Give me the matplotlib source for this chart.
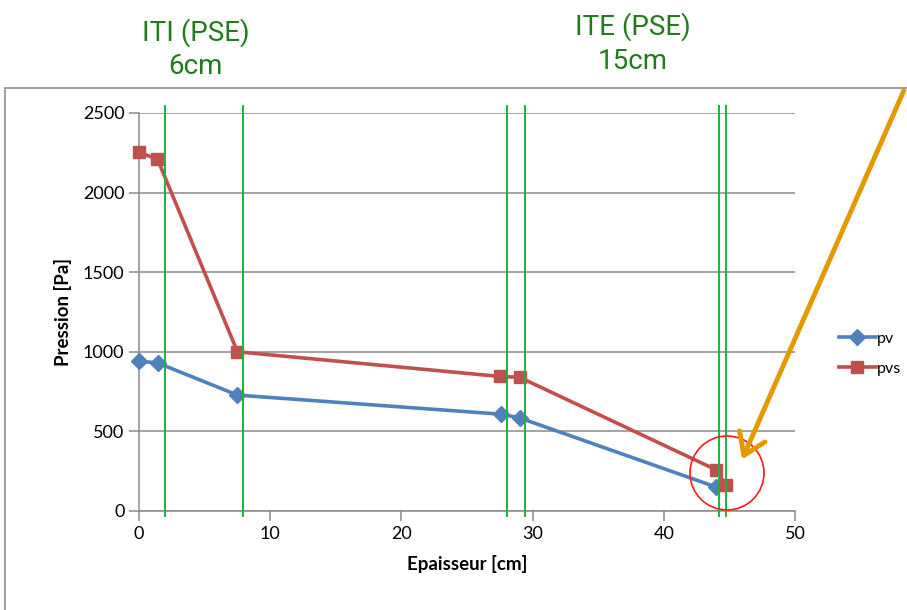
import numpy as np
import matplotlib.pyplot as plt
from matplotlib.patches import Rectangle, Circle, FancyArrowPatch

# data
x_pv = [0, 1.45, 7.5, 27.6, 29.0, 44.0]
pv = [942, 929, 728, 608, 585, 150]
x_pvs = [0, 1.4, 7.5, 27.5, 29.0, 44.0, 44.7]
pvs = [2252, 2211, 1000, 845, 840, 258, 163]
walls = [1.95, 7.95, 28.05, 29.4, 44.2, 44.7]
wall_labels = ['ITI (PSE)\n6cm', 'ITE (PSE)\n15cm']
wall_label_x = [4.3, 37.6]
wall_label_y = [2900, 2935]

plt.rcParams['font.family'] = ['Lato', 'DejaVu Sans']

fig = plt.figure(figsize=(9.07, 6.10), dpi=100)
ax = fig.add_axes([0.1533, 0.1623, 0.7233, 0.6525])

# chart border
fig.patches.append(Rectangle((5 / 907, -0.1), 1.2, 1 - 88 / 610 + 0.1,
                             transform=fig.transFigure, fill=False,
                             edgecolor='#8c8c8c', lw=1.2))

ax.plot(x_pv, pv, color='#4F81BD', lw=2.6, marker='D', ms=8, label='pv', clip_on=False, zorder=4)
ax.plot(x_pvs, pvs, color='#C0504D', lw=2.6, marker='s', ms=9, label='pvs', clip_on=False, zorder=4)

for w in walls:
    ax.plot([w, w], [-30, 2545], color='#1DB33D', lw=1.4, clip_on=False, zorder=5)

ax.set_xlim(0, 50)
ax.set_ylim(0, 2500)
ax.set_xticks(np.arange(0, 51, 10))
ax.set_yticks(np.arange(0, 2501, 500))
ax.yaxis.grid(True, color='#8a8a8a', lw=1.1)
ax.set_axisbelow(True)
for s in ['top', 'right']:
    ax.spines[s].set_visible(False)
for s in ['left', 'bottom']:
    ax.spines[s].set_color('#8a8a8a')
    ax.spines[s].set_linewidth(1.1)
ax.tick_params(axis='both', colors='#8a8a8a', labelcolor='black', labelsize=13,
               length=7, width=1.1)

ax.set_xlabel('Epaisseur [cm]', fontsize=13.5, fontweight='bold', labelpad=10)
ax.set_ylabel('Pression [Pa]', fontsize=13.5, fontweight='bold', labelpad=8)

for lab, xl, yl in zip(wall_labels, wall_label_x, wall_label_y):
    ax.text(xl, yl, lab, ha='center', va='center', color='#237A1E',
            fontsize=20, linespacing=1.3, clip_on=False,
            family=['Roboto', 'DejaVu Sans'])

leg = ax.legend(loc='center left', bbox_to_anchor=(1.045, 0.395), frameon=False,
                fontsize=11.5, handlelength=2.3, handletextpad=0.1, labelspacing=1.0)

# red circle and orange arrow
fig.patches.append(Circle((727, 610 - 473), 37, transform=None, fill=False,
                          edgecolor='#FF1A1A', lw=1.2))
arr = FancyArrowPatch((905, 610 - 88), (741, 610 - 462), transform=None,
                      arrowstyle='->,head_length=0.75,head_width=0.5',
                      color='#E39A00', lw=3.5, mutation_scale=20)
fig.patches.append(arr)

fig.savefig('out.png', dpi=100)
